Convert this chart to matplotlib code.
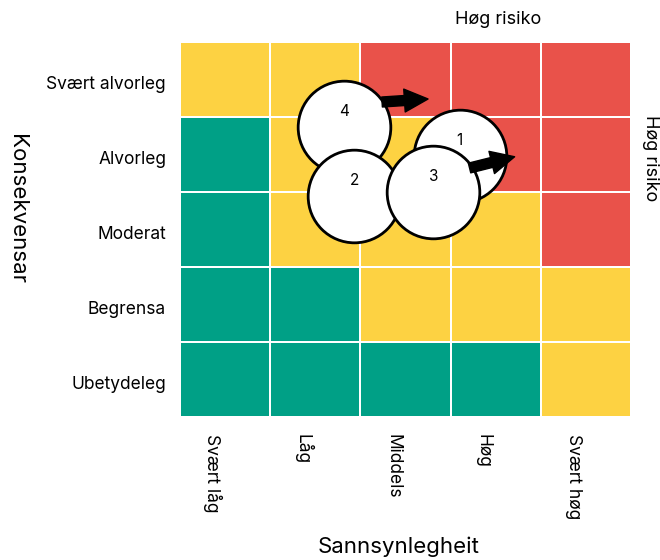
import numpy as np
import matplotlib.pyplot as plt
import matplotlib.transforms as mtransforms
from matplotlib.colors import ListedColormap

# risk matrix: 0 = green, 1 = yellow, 2 = red (rows from bottom to top)
likelihood = ['Svært låg', 'Låg', 'Middels', 'Høg', 'Svært høg']
consequence = ['Ubetydeleg', 'Begrensa', 'Moderat', 'Alvorleg', 'Svært alvorleg']
levels = [[0, 0, 0, 0, 1],
          [0, 0, 1, 1, 1],
          [0, 1, 1, 1, 2],
          [0, 1, 1, 2, 2],
          [1, 1, 2, 2, 2]]

# risks (likelihood pos, consequence pos)
risk_ids = ['4', '1', '2', '3']
risk_x = [1.82, 3.10, 1.93, 2.81]
risk_y = [3.87, 3.48, 2.95, 3.00]

# trend arrows (start -> end)
arrow_start = [(2.24, 4.20), (3.21, 3.32)]
arrow_end = [(2.75, 4.24), (3.71, 3.47)]

plt.rcParams['font.family'] = ['Inter', 'DejaVu Sans']

fig = plt.figure(figsize=(6.6, 5.6), dpi=100)
ax = fig.add_axes([180/660, 1 - 417/560, 451/660, 375/560])

cmap = ListedColormap(['#00A086', '#FDD242', '#E9524A'])
ax.pcolormesh(np.arange(6), np.arange(6), np.array(levels), cmap=cmap,
              vmin=0, vmax=2, edgecolors='white', linewidth=1.2)
ax.set_xlim(0, 5)
ax.set_ylim(0, 5)
for s in ax.spines.values():
    s.set_visible(False)

ax.set_yticks(np.arange(5) + 0.5)
ax.set_yticklabels(consequence, fontsize=12.5)
ax.set_xticks([])
ax.tick_params(axis='y', length=0, pad=10)
# nudge the row labels down a little
shift = mtransforms.ScaledTranslation(0, -3/100, fig.dpi_scale_trans)
for lab in ax.get_yticklabels():
    lab.set_transform(lab.get_transform() + shift)

for i, lab in enumerate(likelihood):
    ax.text(i + 0.36, -0.22, lab, rotation=-90, ha='center', va='top', fontsize=12.5)

ax.text(2.42, -1.73, 'Sannsynlegheit', ha='center', va='center', fontsize=16)
fig.text(17/660, 1 - 209/560, 'Konsekvensar', rotation=-90, ha='center', va='center', fontsize=16)
fig.text(498/660, 1 - 20/560, 'Høg risiko', ha='center', va='center', fontsize=13)
fig.text(651/660, 1 - 158/560, 'Høg risiko', rotation=-90, ha='center', va='center', fontsize=13)

ax.scatter(risk_x, risk_y, s=4450, facecolor='white', edgecolor='black', linewidth=2, zorder=3, clip_on=False)
for rid, x, y in zip(risk_ids, risk_x, risk_y):
    ax.annotate(rid, (x, y), xytext=(0, 11), textcoords='offset points',
                ha='center', va='center', fontsize=11, zorder=4)

for a, b in zip(arrow_start, arrow_end):
    ax.annotate('', xy=b, xytext=a,
                arrowprops=dict(arrowstyle='simple,head_length=1.7,head_width=1.65,tail_width=0.72',
                                color='black', shrinkA=0, shrinkB=0, mutation_scale=10), zorder=5)

fig.savefig('out.png', dpi=100)
